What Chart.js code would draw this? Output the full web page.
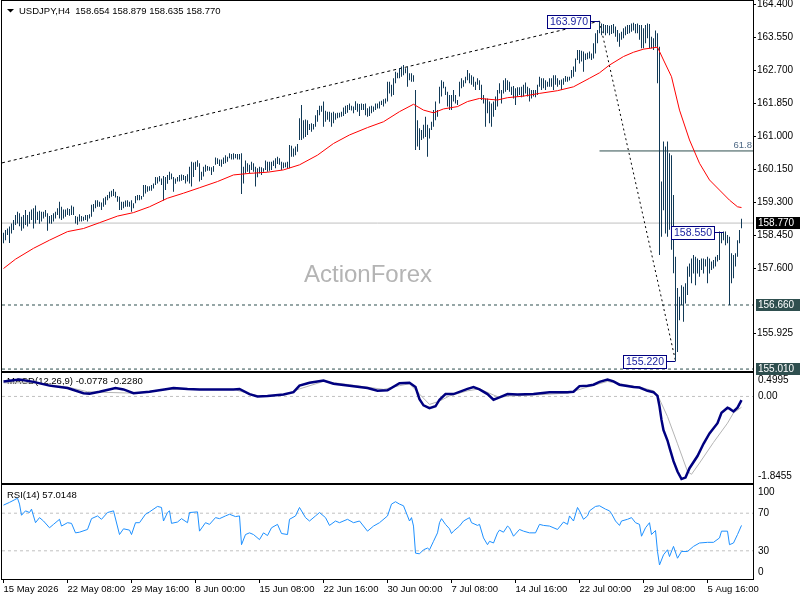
<!DOCTYPE html>
<html>
<head>
<meta charset="utf-8">
<title>USDJPY H4</title>
<script src="https://cdn.jsdelivr.net/npm/chart.js@4.4.1/dist/chart.umd.min.js"></script>
<style>
  html, body { margin: 0; padding: 0; background: #fff; }
  #wrap { position: relative; width: 800px; height: 600px; overflow: hidden; }
  #wrap canvas { position: absolute; left: 0; top: 0; }
</style>
</head>
<body>
<div id="wrap">
  <canvas id="priceChart" width="800" height="600"></canvas>
  <canvas id="macdChart" width="800" height="600"></canvas>
  <canvas id="rsiChart" width="800" height="600"></canvas>
</div>
<script>
// USDJPY H4: price bars + MA, MACD and RSI panels
// bar index 0 = 15 May 2026 00:00, one bar every 4 hours

var highs = [
  158.52,158.59,158.63,158.68,158.76,158.85,158.98,159.06,159.02,158.93,
  158.98,159.11,158.98,159.06,159.12,159.15,159.22,159.06,159.09,159.06,
  159.06,159.11,159.02,158.95,158.98,159.02,159.06,159.15,159.32,159.19,
  159.12,159.12,159.15,159.13,159.22,159.19,158.95,158.93,159.00,158.95,
  158.93,158.98,158.98,159.00,159.24,159.26,159.36,159.36,159.32,159.30,
  159.41,159.45,159.49,159.58,159.60,159.65,159.58,159.47,159.45,159.32,
  159.32,159.35,159.36,159.32,159.36,159.28,159.47,159.49,159.49,159.47,
  159.75,159.75,159.72,159.72,159.75,159.79,159.96,159.95,159.98,159.92,
  159.98,159.96,160.01,160.09,160.05,159.96,159.92,159.96,160.01,160.02,
  160.01,159.98,160.03,160.22,160.35,160.33,160.35,160.39,160.31,160.09,
  160.22,160.27,160.24,160.22,160.21,160.24,160.46,160.44,160.41,160.41,
  160.46,160.52,160.48,160.57,160.55,160.57,160.55,160.55,160.55,160.57,
  160.22,160.38,160.31,160.27,160.35,160.31,160.22,160.18,160.22,160.21,
  160.18,160.38,160.35,160.35,160.35,160.38,160.44,160.48,160.44,160.35,
  160.33,160.33,160.35,160.78,160.76,160.69,160.74,160.81,161.47,161.81,
  161.42,161.44,161.42,161.32,161.34,161.32,161.55,161.68,161.79,161.79,
  161.90,161.66,161.64,161.64,161.61,161.64,161.60,161.61,161.61,161.64,
  161.75,161.79,161.81,161.85,161.79,161.77,161.91,161.85,161.84,161.85,
  161.84,161.85,161.73,161.77,161.79,161.77,161.85,161.85,161.90,161.92,
  161.96,161.98,162.41,162.41,162.33,162.50,162.67,162.64,162.76,162.80,
  162.84,162.76,162.80,162.63,162.63,162.58,162.20,161.42,161.21,161.17,
  161.30,161.51,161.30,161.21,161.38,161.68,161.90,161.68,162.28,162.45,
  162.41,162.28,162.15,162.07,162.07,162.20,162.07,161.94,162.41,162.50,
  162.45,162.54,162.71,162.63,162.58,162.54,162.41,162.50,162.45,162.33,
  162.07,161.98,161.98,161.90,161.85,161.90,162.03,162.20,162.37,162.20,
  162.45,162.50,162.45,162.41,162.28,162.30,162.24,162.27,162.27,162.28,
  162.33,162.39,162.28,162.24,162.20,162.20,162.20,162.33,162.54,162.50,
  162.50,162.45,162.41,162.50,162.50,162.58,162.58,162.50,162.45,162.47,
  162.50,162.56,162.54,162.54,162.71,162.80,163.01,163.23,163.23,163.21,
  163.19,163.14,163.16,163.19,163.14,163.40,163.66,163.74,163.97,163.91,
  163.90,163.87,163.87,163.85,163.87,163.90,163.83,163.74,163.66,163.70,
  163.79,163.83,163.87,163.87,163.91,163.93,163.90,163.91,163.87,163.87,
  163.79,163.87,163.91,163.90,163.57,163.53,163.73,163.66,163.31,159.84,
  160.87,160.74,160.87,160.57,160.52,159.49,157.90,157.10,156.87,157.17,
  157.13,157.22,157.65,157.73,157.86,157.95,157.90,157.86,157.82,157.86,
  157.86,157.84,157.90,157.86,157.78,157.82,157.90,157.95,158.55,158.52,
  158.55,158.55,158.46,158.42,157.99,157.95,157.99,158.33,158.59,158.879
];

var lows = [
  158.25,158.33,158.46,158.26,158.50,158.59,158.72,158.76,158.69,158.57,
  158.63,158.72,158.68,158.75,158.85,158.63,158.76,158.85,158.75,158.81,
  158.89,158.93,158.57,158.76,158.75,158.81,158.89,158.98,158.89,158.85,
  158.89,158.93,158.98,158.96,158.98,158.98,158.76,158.73,158.81,158.81,
  158.83,158.85,158.81,158.89,158.93,159.06,159.15,159.19,159.19,159.11,
  159.19,159.24,159.36,159.41,159.45,159.47,159.43,159.32,159.11,159.11,
  159.15,159.19,159.19,159.19,159.06,159.15,159.28,159.36,159.36,159.38,
  159.45,159.53,159.58,159.60,159.60,159.66,159.75,159.79,159.84,159.75,
  159.35,159.62,159.78,159.88,159.90,159.58,159.78,159.84,159.84,159.86,
  159.88,159.79,159.84,159.79,159.71,159.96,160.14,160.22,159.84,159.88,
  159.97,160.09,160.12,160.12,160.01,160.09,160.27,160.29,160.24,160.22,
  160.29,160.31,160.35,160.44,160.41,160.41,160.44,160.41,160.41,159.52,
  159.79,160.05,160.09,160.05,160.14,160.09,159.71,159.95,160.05,160.01,
  160.09,160.14,160.09,160.12,160.14,160.24,160.18,160.29,160.27,160.14,
  160.18,160.21,160.18,160.18,160.48,160.48,160.52,160.61,160.91,160.91,
  160.95,160.99,161.04,161.17,161.12,161.18,161.25,161.38,161.55,161.64,
  161.25,161.38,161.43,161.38,161.25,161.34,161.43,161.47,161.49,161.51,
  161.53,161.58,161.61,161.68,161.67,161.60,161.68,161.64,161.53,161.68,
  161.68,161.55,161.51,161.53,161.60,161.64,161.68,161.72,161.72,161.81,
  161.77,161.85,161.90,162.11,162.03,162.07,162.37,162.50,162.50,162.54,
  162.58,162.63,162.28,162.45,162.41,162.41,160.65,160.74,160.65,160.91,
  160.95,160.99,160.48,160.95,161.17,161.25,161.42,161.51,161.85,162.03,
  162.24,162.07,161.77,161.68,161.68,161.90,161.85,161.81,162.03,162.24,
  162.28,162.37,162.45,162.37,162.33,162.28,162.20,162.33,162.20,161.94,
  161.85,161.25,161.60,161.34,161.25,161.51,161.68,161.77,162.11,161.85,
  162.11,162.15,162.20,162.15,162.07,161.98,161.81,162.03,162.07,162.01,
  162.03,162.11,162.03,161.90,161.98,162.03,162.01,162.07,162.28,162.20,
  162.24,162.20,162.28,162.28,162.28,162.20,162.33,162.28,162.33,162.20,
  162.33,162.41,162.41,162.44,162.50,162.54,162.67,162.97,162.88,162.93,
  162.67,162.97,162.99,163.01,162.97,163.01,163.14,163.40,163.66,163.61,
  163.66,163.61,163.66,163.61,163.64,163.66,163.57,163.44,163.31,163.49,
  163.53,163.61,163.64,163.66,163.70,163.73,163.66,163.66,163.49,163.27,
  163.27,163.40,163.53,163.27,163.27,163.23,163.31,162.37,157.95,158.42,
  159.10,158.50,158.42,158.60,158.08,157.48,155.22,155.45,156.27,156.66,
  156.23,156.70,156.92,157.39,157.22,157.47,157.17,157.47,157.39,157.56,
  157.47,157.65,157.22,157.47,157.56,157.60,157.65,157.78,157.82,158.25,
  158.33,158.20,158.25,156.66,157.22,157.35,157.65,157.90,158.25,158.635
];

// open, high, low, close of the last bar (title line)
var lastBar = [158.654, 158.879, 158.635, 158.770];

// red moving average, read at sample bars
var maIdx = [0,6,15,23,32,40,48,57,65,73,82,90,98,107,115,123,132,140,148,157,165,173,182,190,198,
  205,210,215,220,227,232,238,247,252,260,268,277,285,293,298,303,310,315,320,327,330,334,338,343,348,
  353,358,363,367,369];
var maVals = [157.60,157.84,158.12,158.33,158.55,158.63,158.78,158.95,159.04,159.19,159.41,159.54,159.68,
  159.84,160.01,160.05,160.08,160.14,160.27,160.52,160.82,161.04,161.23,161.38,161.64,161.83,161.68,161.61,
  161.71,161.77,161.90,161.98,161.94,162.00,162.04,162.11,162.18,162.28,162.50,162.64,162.84,163.06,163.17,
  163.25,163.30,162.97,162.54,161.68,160.91,160.31,159.88,159.62,159.36,159.19,159.17];

// MACD(12,26,9) main line and signal line
var macdIdx = [0,8,15,23,32,40,43,48,56,60,65,73,82,85,92,98,107,115,118,123,127,132,140,145,148,153,160,
  165,173,182,187,192,198,203,206,208,210,213,216,218,221,225,232,235,238,242,245,248,252,257,265,273,282,
  285,288,292,295,298,302,305,308,315,318,322,325,327,328,329,330,332,333,335,337,339,341,343,347,350,353,
  357,359,362,363,365,367,369];
var macdVals = [0.32,0.36,0.31,0.23,0.18,0.07,0.06,0.10,0.18,0.15,0.07,0.10,0.16,0.18,0.16,0.15,0.15,0.15,
  0.16,0.05,0.00,0.01,0.04,0.09,0.23,0.29,0.34,0.27,0.23,0.18,0.12,0.13,0.28,0.29,0.20,-0.06,-0.19,-0.25,
  -0.21,-0.07,0.05,0.05,0.16,0.20,0.15,0.05,-0.07,-0.02,0.05,0.04,0.05,0.09,0.09,0.10,0.22,0.23,0.25,0.31,
  0.36,0.32,0.25,0.20,0.19,0.12,0.09,0.01,-0.21,-0.50,-0.72,-0.94,-1.09,-1.38,-1.60,-1.76,-1.73,-1.53,
  -1.27,-1.01,-0.79,-0.57,-0.35,-0.24,-0.26,-0.32,-0.24,-0.08];
var sigIdx = [0,15,32,42,48,65,82,115,128,140,148,160,173,190,198,203,208,213,218,223,232,238,245,248,253,
  265,282,292,302,308,318,325,328,332,337,342,344,348,355,362,365,369];
var sigVals = [0.29,0.29,0.20,0.10,0.09,0.07,0.15,0.15,0.00,0.03,0.16,0.32,0.25,0.15,0.23,0.27,0.05,-0.17,
  -0.10,0.01,0.12,0.16,0.03,-0.02,0.01,0.03,0.07,0.20,0.32,0.27,0.20,0.12,-0.06,-0.43,-1.01,-1.60,-1.66,
  -1.42,-0.98,-0.57,-0.35,-0.23];
var macdReadout = [-0.0778, -0.2280];

// RSI(14)
var rsiIdx = [0,3,7,8,9,11,13,14,16,18,20,23,25,28,29,32,34,36,38,42,44,47,49,52,55,58,60,63,64,66,68,71,
  73,77,79,80,82,83,84,87,89,92,93,97,98,101,103,106,108,111,113,116,118,119,121,123,125,128,130,132,134,
  137,139,142,143,146,148,151,153,156,158,161,163,166,168,172,175,178,182,185,188,192,194,196,198,200,202,
  203,204,205,206,208,210,212,213,215,217,218,219,221,223,224,225,228,230,233,234,237,238,240,242,243,245,
  247,248,250,252,253,255,258,260,263,266,268,270,273,277,280,282,283,285,287,288,290,292,293,296,298,301,
  303,304,306,308,309,312,314,316,318,319,321,323,324,326,327,328,330,332,333,335,337,339,342,345,348,352,
  355,358,359,362,363,365,367,369];
var rsiVals = [78.6,81.5,85.9,79.7,67.8,72.5,70.7,74.3,59.9,65.3,61.7,54.5,58.1,63.5,56.3,59.9,59.2,49.1,
  49.8,52.7,64.2,67.1,63.5,70.7,72.5,47.3,53.4,52.0,47.3,59.9,59.9,68.9,71.4,77.2,76.1,61.7,70.7,72.5,59.2,
  60.6,64.2,59.9,70.7,71.4,50.9,59.9,58.1,65.3,64.2,67.1,68.9,66.4,67.1,36.5,47.3,49.1,47.3,41.9,49.1,46.2,
  54.5,58.1,48.4,47.3,63.5,67.1,76.1,65.3,61.7,67.1,70.7,65.3,57.0,61.7,59.9,63.5,59.9,61.7,50.9,56.3,59.9,
  67.1,79.7,82.2,79.7,77.9,67.1,61.7,65.3,56.3,27.5,26.8,31.1,32.9,31.1,40.1,49.1,59.9,64.2,58.1,53.4,48.4,
  50.9,56.3,61.7,65.3,59.9,57.0,58.1,43.7,36.5,40.1,38.3,49.1,52.0,49.8,56.3,54.5,45.5,52.7,50.9,49.1,49.1,
  58.1,57.0,56.3,52.7,60.6,58.1,67.1,61.7,76.1,72.5,63.5,67.1,72.5,77.2,77.9,74.3,72.5,69.6,61.7,57.0,61.7,
  63.5,65.3,59.9,58.1,45.5,54.5,59.9,47.3,51.6,29.3,14.9,25.7,31.1,23.9,34.7,22.1,29.3,29.3,34.7,38.3,39.0,
  39.0,43.7,50.9,50.9,36.5,38.3,47.3,57.01];
var rsiReadout = 57.0148;
var rsiLevels = [70, 30];

// axes
var xTickIdx = [0, 32, 64, 96, 128, 160, 192, 224, 256, 288, 320, 352];
var xTickLabels = ['15 May 2026', '22 May 08:00', '29 May 16:00', '8 Jun 00:00', '15 Jun 08:00',
  '22 Jun 16:00', '30 Jun 00:00', '7 Jul 08:00', '14 Jul 16:00', '22 Jul 00:00', '29 Jul 08:00', '5 Aug 16:00'];
var priceTicks = [164.4, 163.55, 162.7, 161.85, 161.0, 160.15, 159.3, 158.45, 157.6, 155.925];
var macdTicks = [0.4995, 0, -1.8455];
var macdTickLabels = ['0.4995', '0.00', '-1.8455'];
var rsiTicks = [100, 70, 30, 0];

// objects drawn on the price panel
var channelIdx = [-0.75, 298];
var channelPrice = [160.32, 163.97];
var swingIdx = [298, 336];
var swingPrice = [163.97, 155.22];
var tagIdx = [298, 360, 336];
var tagPrice = [163.97, 158.55, 155.22];
var fibIdx = 298;
var fibLevel = 160.628;
var supportLevels = [156.66, 155.01];

var X_MIN = -0.75, X_MAX = 374.75;
var FONT = '"Liberation Sans", Arial, sans-serif';
Chart.defaults.font.family = FONT;
Chart.defaults.color = '#000';

function points(xs, ys) {
  return xs.map(function (x, i) { return { x: x, y: ys[i] }; });
}

function level(y, fromX) {
  return [{ x: fromX, y: y }, { x: X_MAX, y: y }];
}

function lineSet(data, color, width, dash, order) {
  return {
    type: 'line', data: data, borderColor: color, borderWidth: width,
    borderDash: dash || [], pointRadius: 0, tension: 0, fill: false, order: order
  };
}

// no label overhang padding, so the plot area is exactly what layout.padding says
function noOverhang(s) {
  s.paddingTop = 0; s.paddingBottom = 0; s.paddingLeft = 0; s.paddingRight = 0;
}

function hiddenX() {
  return { type: 'linear', min: X_MIN, max: X_MAX, display: false, offset: false };
}

function hiddenRightY(min, max) {
  return {
    type: 'linear', position: 'right', min: min, max: max,
    afterFit: function (s) { s.width = 47; noOverhang(s); },
    ticks: { display: false }, grid: { display: false }, border: { display: false }
  };
}

function baseOptions(padding) {
  return {
    responsive: false, animation: false, devicePixelRatio: 1, events: [],
    layout: { padding: padding, autoPadding: false },
    plugins: { legend: { display: false }, tooltip: { enabled: false } }
  };
}

function drawFrame(chart) {
  var a = chart.chartArea, ctx = chart.ctx;
  ctx.save();
  ctx.strokeStyle = '#000';
  ctx.lineWidth = 1;
  ctx.strokeRect(a.left - 0.5, a.top - 0.5, a.right - a.left + 1, a.bottom - a.top + 1);
  ctx.restore();
}

// right side labels kept inside the panel like the terminal does
function drawSideLabels(chart, values, texts) {
  var ctx = chart.ctx, ys = chart.scales.y, a = chart.chartArea;
  ctx.save();
  ctx.font = '10px ' + FONT;
  ctx.fillStyle = '#000';
  ctx.textAlign = 'left';
  ctx.textBaseline = 'middle';
  values.forEach(function (v, i) {
    var y = Math.min(Math.max(ys.getPixelForValue(v), a.top + 7), a.bottom - 7);
    ctx.fillText(texts[i], a.right + 5, y);
  });
  ctx.restore();
}

function panelTitle(chart, text, y) {
  var ctx = chart.ctx;
  ctx.save();
  ctx.font = '9.5px ' + FONT;
  ctx.fillStyle = '#000';
  ctx.textAlign = 'left';
  ctx.textBaseline = 'middle';
  ctx.fillText(text, 7, y);
  ctx.restore();
}

var priceOverlay = {
  id: 'priceOverlay',
  beforeDatasetsDraw: function (chart) {
    var ctx = chart.ctx;
    ctx.save();
    ctx.font = '24px ' + FONT;
    ctx.fillStyle = '#b4b4b4';
    ctx.textAlign = 'center';
    ctx.textBaseline = 'middle';
    ctx.fillText('ActionForex', 368, 275);
    ctx.restore();
  },
  afterDatasetsDraw: function (chart) {
    var ctx = chart.ctx, xs = chart.scales.x, ys = chart.scales.y;
    ctx.save();
    ctx.font = '9.5px ' + FONT;
    ctx.fillStyle = '#4f6a86';
    ctx.textAlign = 'right';
    ctx.textBaseline = 'alphabetic';
    ctx.fillText('61.8', chart.chartArea.right - 1, ys.getPixelForValue(fibLevel) - 3);

    tagIdx.forEach(function (idx, i) {
      var px = xs.getPixelForValue(idx);
      var py = Math.round(ys.getPixelForValue(tagPrice[i])) + 0.5;
      var boxR = Math.round(px - 10) + 0.5, boxW = 43;
      ctx.strokeStyle = '#000080';
      ctx.lineWidth = 1;
      ctx.beginPath();
      ctx.moveTo(boxR, py);
      ctx.lineTo(px, py);
      ctx.stroke();
      ctx.fillStyle = '#fff';
      ctx.fillRect(boxR - boxW, py - 6, boxW, 13);
      ctx.strokeRect(boxR - boxW, py - 6, boxW, 13);
      ctx.fillStyle = '#1c23a0';
      ctx.font = '10.5px ' + FONT;
      ctx.textAlign = 'center';
      ctx.textBaseline = 'middle';
      ctx.fillText(tagPrice[i].toFixed(3), boxR - boxW / 2, py + 1);
    });
    ctx.restore();
  },
  afterDraw: function (chart) {
    var ctx = chart.ctx, ys = chart.scales.y, a = chart.chartArea;
    drawFrame(chart);
    ctx.save();
    // title line
    ctx.fillStyle = '#000';
    ctx.beginPath();
    ctx.moveTo(7, 9);
    ctx.lineTo(14, 9);
    ctx.lineTo(10.5, 12.5);
    ctx.closePath();
    ctx.fill();
    ctx.font = '9.5px ' + FONT;
    ctx.textAlign = 'left';
    ctx.textBaseline = 'middle';
    ctx.fillText('USDJPY,H4  ' + lastBar.map(function (v) { return v.toFixed(3); }).join(' '), 19, 11);
    // boxed price labels on the axis
    var boxes = [[lastBar[3], '#000'], [supportLevels[0], '#2f4f4f'], [supportLevels[1], '#2f4f4f']];
    ctx.font = '10px ' + FONT;
    boxes.forEach(function (b) {
      var py = Math.round(ys.getPixelForValue(b[0]));
      ctx.fillStyle = b[1];
      ctx.fillRect(a.right + 3, py - 6, 800 - a.right - 3, 12);
      ctx.fillStyle = '#fff';
      ctx.fillText(b[0].toFixed(3), a.right + 5, py);
    });
    ctx.restore();
  }
};

var macdOverlay = {
  id: 'macdOverlay',
  beforeDatasetsDraw: function (chart) {
    panelTitle(chart, 'MACD(12,26,9) ' + macdReadout[0].toFixed(4) + ' ' + macdReadout[1].toFixed(4), 381.5);
  },
  afterDraw: function (chart) {
    drawFrame(chart);
    drawSideLabels(chart, macdTicks, macdTickLabels);
  }
};

var rsiOverlay = {
  id: 'rsiOverlay',
  beforeDatasetsDraw: function (chart) {
    panelTitle(chart, 'RSI(14) ' + rsiReadout.toFixed(4), 495);
  },
  afterDraw: function (chart) {
    drawFrame(chart);
    drawSideLabels(chart, rsiTicks, rsiTicks.map(String));
  }
};

// price panel
var barData = highs.map(function (h, i) { return { x: i, y: [lows[i], h] }; });
var priceOpts = baseOptions({ left: 2, top: 1, right: 0, bottom: 229 });
priceOpts.scales = {
  x: hiddenX(),
  y: {
    type: 'linear', position: 'right', min: 154.96, max: 164.49,
    afterFit: function (s) { s.width = 47; noOverhang(s); },
    afterBuildTicks: function (s) { s.ticks = priceTicks.map(function (v) { return { value: v }; }); },
    ticks: {
      autoSkip: false, padding: 1, font: { size: 10 }, color: '#000',
      callback: function (v) { return v.toFixed(3); }
    },
    grid: { drawOnChartArea: false, tickLength: 3, color: '#000' },
    border: { display: false }
  }
};
new Chart(document.getElementById('priceChart'), {
  type: 'line',
  data: {
    datasets: [
      lineSet(level(lastBar[3], X_MIN), '#c0c0c0', 1, null, 6),
      lineSet(level(supportLevels[0], X_MIN), '#2f4f4f', 1, [3, 3], 6),
      lineSet(level(supportLevels[1], X_MIN), '#2f4f4f', 1, [3, 3], 6),
      lineSet(level(fibLevel, fibIdx), '#2f4f4f', 1, null, 6),
      lineSet(points(channelIdx, channelPrice), '#000', 1, [3, 3], 5),
      lineSet(points(swingIdx, swingPrice), '#000', 1, [2, 3], 5),
      { type: 'bar', data: barData, backgroundColor: '#123a57', barThickness: 1, inflateAmount: 0, order: 2 },
      lineSet(points(maIdx, maVals), '#ff0000', 1, null, 1)
    ]
  },
  options: priceOpts,
  plugins: [priceOverlay]
});

// MACD panel
var macdOpts = baseOptions({ left: 2, top: 373, right: 0, bottom: 117 });
macdOpts.scales = { x: hiddenX(), y: hiddenRightY(-1.8455, 0.4995) };
new Chart(document.getElementById('macdChart'), {
  type: 'line',
  data: {
    datasets: [
      lineSet(level(0, X_MIN), '#c0c0c0', 1, [3, 3], 5),
      lineSet(points(sigIdx, sigVals), '#b4b4b4', 1, null, 2),
      lineSet(points(macdIdx, macdVals), '#000080', 2.5, null, 1)
    ]
  },
  options: macdOpts,
  plugins: [macdOverlay]
});

// RSI panel with the time axis
var rsiOpts = baseOptions({ left: 2, top: 485, right: 0, bottom: 0 });
rsiOpts.scales = {
  x: {
    type: 'linear', position: 'bottom', min: X_MIN, max: X_MAX, offset: false,
    afterFit: function (s) { s.height = 21; noOverhang(s); },
    afterBuildTicks: function (s) { s.ticks = xTickIdx.map(function (v) { return { value: v }; }); },
    ticks: {
      autoSkip: false, maxRotation: 0, minRotation: 0, align: 'start', padding: 1,
      font: { size: 9.5 }, color: '#000',
      callback: function (v, i) { return xTickLabels[i]; }
    },
    grid: { drawOnChartArea: false, tickLength: 4, color: '#000', offset: false },
    border: { display: false }
  },
  y: hiddenRightY(0, 100)
};
new Chart(document.getElementById('rsiChart'), {
  type: 'line',
  data: {
    datasets: [
      lineSet(level(rsiLevels[0], X_MIN), '#c0c0c0', 1, [3, 3], 5),
      lineSet(level(rsiLevels[1], X_MIN), '#c0c0c0', 1, [3, 3], 5),
      lineSet(points(rsiIdx, rsiVals), '#1e90ff', 1, null, 1)
    ]
  },
  options: rsiOpts,
  plugins: [rsiOverlay]
});
</script>
</body>
</html>
